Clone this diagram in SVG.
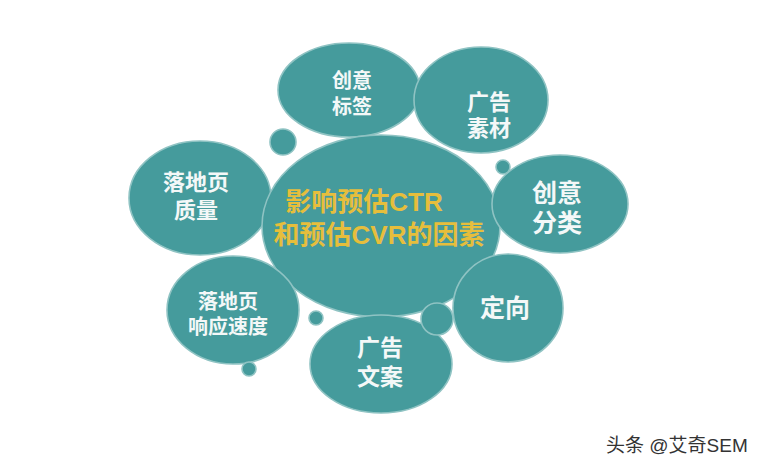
<svg xmlns="http://www.w3.org/2000/svg" width="771" height="468" viewBox="0 0 771 468">
<style>
.b{fill:#459b9c;stroke:#8fc3c3;stroke-width:1.6}
.t{fill:#f4f8f8;font-family:"Liberation Serif","Noto Sans CJK SC",serif;font-weight:700;text-anchor:middle;dominant-baseline:central}
.c{fill:#e6be3c;font-family:"Liberation Sans","Noto Sans CJK SC",sans-serif;font-weight:700;text-anchor:middle;dominant-baseline:central;font-size:26px}
.w{fill:#333;font-family:"Liberation Sans","Noto Sans CJK SC",sans-serif;font-size:19px;dominant-baseline:central}
</style>
<rect width="771" height="468" fill="#fff"/>
<g id="node-chuangyi-biaoqian">
<ellipse class="b" cx="349" cy="90" rx="71" ry="47"/>
<text class="t" x="352" y="81" font-size="20">创意</text>
<text class="t" x="352" y="107" font-size="20">标签</text>
</g>
<g id="node-guanggao-sucai">
<ellipse class="b" cx="481" cy="100" rx="67" ry="53"/>
<text class="t" x="489" y="102" font-size="22">广告</text>
<text class="t" x="489" y="128" font-size="22">素材</text>
</g>
<g id="node-luodiye-zhiliang">
<ellipse class="b" cx="200" cy="198" rx="71" ry="57"/>
<text class="t" x="196" y="182" font-size="22">落地页</text>
<text class="t" x="196" y="210" font-size="22">质量</text>
</g>
<g id="node-center">
<ellipse class="b" cx="381" cy="226" rx="119" ry="91"/>
<text class="c" x="364" y="202">影响预估CTR</text>
<text class="c" x="379" y="235">和预估CVR的因素</text>
</g>
<g id="node-chuangyi-fenlei">
<ellipse class="b" cx="560" cy="204" rx="68" ry="49"/>
<text class="t" x="557" y="193" font-size="25">创意</text>
<text class="t" x="557" y="223" font-size="25">分类</text>
</g>
<g id="node-dingxiang">
<ellipse class="b" cx="508" cy="308" rx="55" ry="54"/>
<text class="t" x="505" y="308" font-size="25">定向</text>
</g>
<g id="node-luodiye-sudu">
<ellipse class="b" cx="233" cy="310" rx="66" ry="54"/>
<text class="t" x="228" y="302" font-size="20">落地页</text>
<text class="t" x="228" y="327" font-size="20">响应速度</text>
</g>
<g id="node-guanggao-wenan">
<ellipse class="b" cx="381" cy="364" rx="71" ry="49"/>
<text class="t" x="380" y="348" font-size="23">广告</text>
<text class="t" x="380" y="377" font-size="23">文案</text>
</g>
<g id="connectors">
<circle class="b" cx="283" cy="142" r="13"/>
<circle class="b" cx="503" cy="167" r="7"/>
<circle class="b" cx="437" cy="319" r="16"/>
<circle class="b" cx="316" cy="318" r="7"/>
<circle class="b" cx="249" cy="369" r="7"/>
</g>
<text class="w" x="606" y="445">头条 @艾奇SEM</text>
</svg>
